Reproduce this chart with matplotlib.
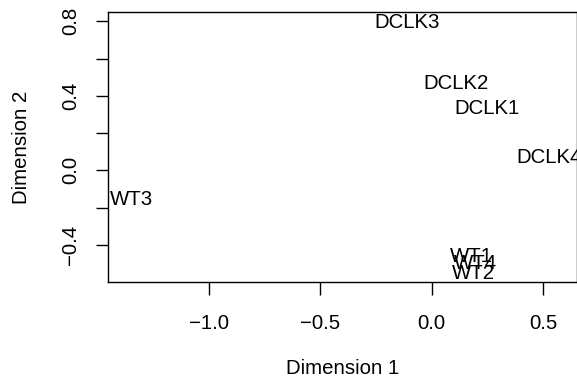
import matplotlib
matplotlib.use("Agg")
import matplotlib.pyplot as plt
from matplotlib.ticker import FixedLocator, FuncFormatter

# MDS coordinates of each sample
samples = ["DCLK3", "DCLK2", "DCLK1", "DCLK4", "WT3", "WT1", "WT4", "WT2"]
dim1 = [-0.112, 0.110, 0.247, 0.529, -1.346, 0.181, 0.199, 0.187]
dim2 = [0.795, 0.468, 0.334, 0.070, -0.157, -0.463, -0.498, -0.552]

x_ticks = [-1.0, -0.5, 0.0, 0.5]
y_ticks = [-0.4, -0.2, 0.0, 0.2, 0.4, 0.6, 0.8]
y_labelled = [-0.4, 0.0, 0.4, 0.8]

plt.rcParams["font.family"] = ["Liberation Sans", "DejaVu Sans"]
FS = 14.7

fig = plt.figure(figsize=(5.77, 3.81), dpi=100)
W, H = 577, 381
left, right, top, bottom = 108, 576.5, 12.3, 281.7
ax = fig.add_axes([left / W, 1 - bottom / H, (right - left) / W, (bottom - top) / H])

for name, x, y in zip(samples, dim1, dim2):
    ax.text(x, y, name, ha="center", va="center", fontsize=FS, clip_on=False)

ax.set_xlim(-1.4535, 0.651)
ax.set_ylim(-0.597, 0.848)

ax.xaxis.set_major_locator(FixedLocator(x_ticks))
ax.yaxis.set_major_locator(FixedLocator(y_ticks))
ax.xaxis.set_major_formatter(FuncFormatter(lambda v, p: f"{v:.1f}".replace("-", "\u2212")))
ax.yaxis.set_major_formatter(FuncFormatter(
    lambda v, p: f"{v:.1f}".replace("-", "\u2212") if any(abs(v - t) < 1e-9 for t in y_labelled) else ""))

ax.tick_params(axis="both", direction="out", length=9, width=1.0, labelsize=FS, color="black")
ax.tick_params(axis="x", pad=14)
ax.tick_params(axis="y", pad=11)
for lab in ax.get_yticklabels():
    lab.set_rotation(90)
    lab.set_va("center")

for s in ax.spines.values():
    s.set_linewidth(1.0)
    s.set_color("black")

ax.set_xlabel("Dimension 1", fontsize=FS, va="center")
ax.xaxis.set_label_coords(0.5, -0.324)
ax.set_ylabel("Dimension 2", fontsize=FS, va="center")
ax.yaxis.set_label_coords(-0.184, 0.5)

fig.savefig("out.png", dpi=100)
